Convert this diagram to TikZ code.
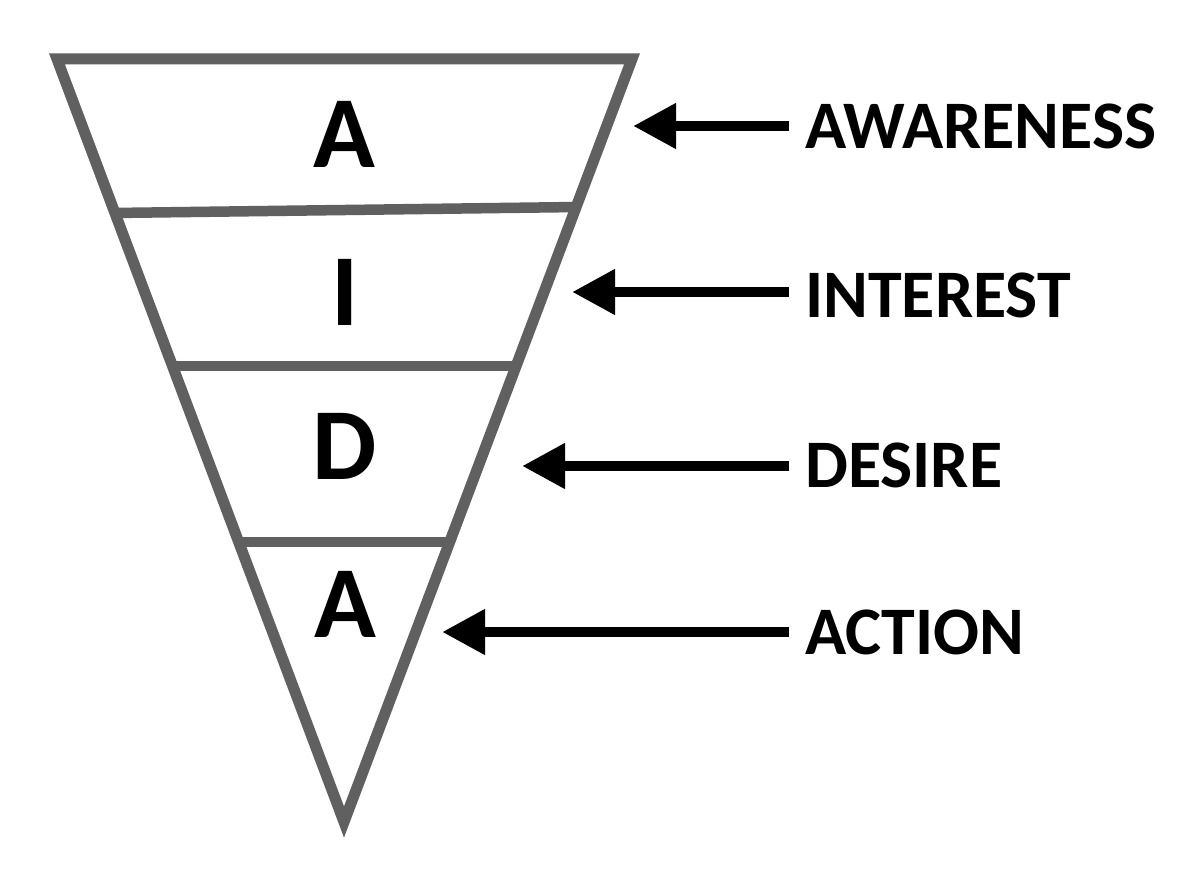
\documentclass[tikz,border=0pt]{standalone}
\usepackage{fontspec}
\setmainfont{Carlito}
\usetikzlibrary{arrows.meta,calc}
\definecolor{funnelgray}{RGB}{96,96,96}
\tikzset{
  funnel/.style={draw=funnelgray,line width=11pt,line join=miter},
  divider/.style={draw=funnelgray,line width=10.5pt},
  bigletter/.style={inner sep=0pt,font=\fontsize{102}{102}\selectfont\bfseries},
  stagelabel/.style={inner sep=0pt,anchor=west,font=\fontsize{68}{68}\selectfont\bfseries},
  pointer/.style={draw=black,line width=10.5pt,-{Triangle[length=43pt 0 0,width=43pt 0 0]}}
}
\begin{document}
\begin{tikzpicture}[x=1pt,y=-1pt]
\useasboundingbox[fill=white] (0,0) rectangle (1200,875);
% funnel
\coordinate (tl) at (57,59);
\coordinate (tr) at (632,59);
\coordinate (ap) at (344,822);
\draw[funnel] (tl) -- (tr) -- (ap) -- cycle;
% dividers
\coordinate (d1l) at ($(tl)!0.2018!(ap)$);
\coordinate (d1r) at ($(tr)!0.194!(ap)$);
\coordinate (d2l) at ($(tl)!0.4024!(ap)$);
\coordinate (d2r) at ($(tr)!0.4024!(ap)$);
\coordinate (d3l) at ($(tl)!0.633!(ap)$);
\coordinate (d3r) at ($(tr)!0.633!(ap)$);
\draw[divider] (d1l) -- (d1r);
\draw[divider] (d2l) -- (d2r);
\draw[divider] (d3l) -- (d3r);
% letters
\node[bigletter] (la) at (344,134.5) {A};
\node[bigletter] (li) at (345,292.5) {I};
\node[bigletter] (ld) at (345,446.5) {D};
\node[bigletter] (lb) at (345,604.5) {A};
% labels
\node[stagelabel] (aw) at (805,126) {AWARENESS};
\node[stagelabel] (in) at (805,295) {INTEREST};
\node[stagelabel] (de) at (805,465) {DESIRE};
\node[stagelabel] (ac) at (805,632) {ACTION};
% arrow tips
\coordinate (taw) at (633,126);
\coordinate (tin) at (572,292);
\coordinate (tde) at (522,466);
\coordinate (tac) at (442,632);
% arrow starts
\coordinate (saw) at (789,126);
\coordinate (sin) at (789,292);
\coordinate (sde) at (789,466);
\coordinate (sac) at (789,632);
\draw[pointer] (saw) -- (taw);
\draw[pointer] (sin) -- (tin);
\draw[pointer] (sde) -- (tde);
\draw[pointer] (sac) -- (tac);
\end{tikzpicture}
\end{document}
